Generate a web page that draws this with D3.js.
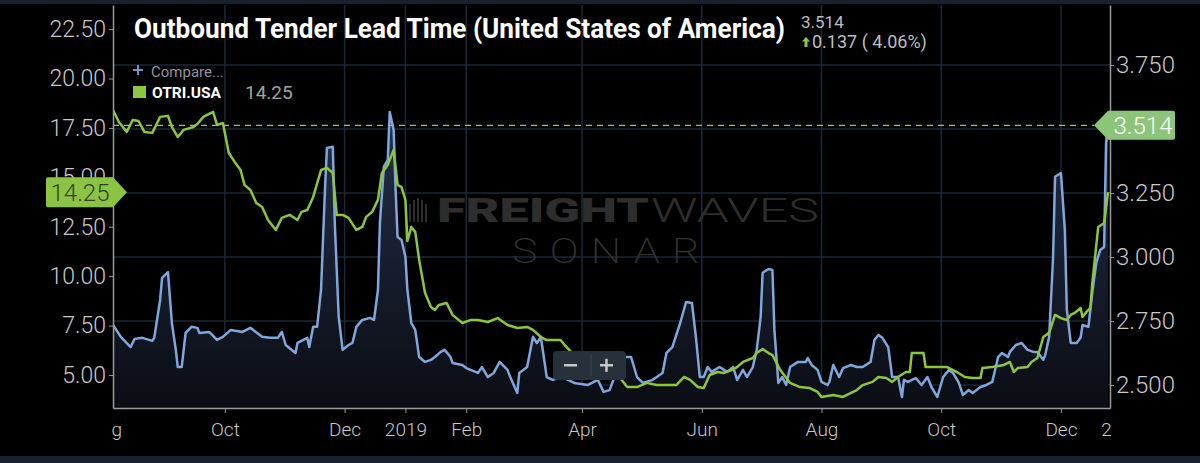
<!DOCTYPE html>
<html>
<head>
<meta charset="utf-8">
<script src="https://cdn.jsdelivr.net/npm/d3@7"></script>
<style>
  html, body { margin: 0; padding: 0; background: #000; }
  svg { display: block; font-family: Roboto, "Noto Sans", sans-serif; }
</style>
</head>
<body>
<svg id="chart" width="1200" height="463"></svg>
<script>
// day number counted from 2018-08-05, value
const startDay = '2018-08-05';
const endDay = '2019-12-26';

// Outbound Tender Lead Time (right axis)
const leadTime = [
  [0,2.734],[4,2.688],[9,2.648],[11,2.680],[15,2.684],[20,2.672],[21,2.684],[24,2.832],[25,2.918],[28,2.941],
  [30,2.742],[32,2.637],[33,2.570],[35,2.570],[37,2.703],[40,2.727],[43,2.723],[44,2.703],[49,2.707],[53,2.676],
  [56,2.688],[60,2.715],[66,2.707],[70,2.723],[76,2.688],[80,2.684],[84,2.684],[86,2.707],[88,2.656],[93,2.625],
  [94,2.664],[99,2.684],[100,2.648],[102,2.727],[104,2.727],[106,2.871],[108,3.262],[109,3.426],[112,3.430],[113,3.133],
  [115,2.766],[117,2.637],[120,2.656],[122,2.664],[124,2.727],[127,2.754],[131,2.762],[133,2.754],[135,2.871],[136,3.133],
  [138,3.352],[140,3.379],[141,3.566],[143,3.496],[144,3.262],[145,3.078],[147,3.066],[149,3.000],[150,2.871],[152,2.742],
  [154,2.715],[156,2.609],[159,2.590],[162,2.598],[164,2.609],[167,2.629],[169,2.637],[172,2.609],[173,2.586],[178,2.578],
  [180,2.566],[186,2.547],[188,2.570],[191,2.531],[194,2.547],[197,2.590],[201,2.559],[203,2.520],[206,2.469],[207,2.547],
  [211,2.570],[214,2.688],[216,2.664],[218,2.688],[221,2.531],[224,2.520],[229,2.531],[235,2.508],[242,2.500],[247,2.520],
  [250,2.473],[253,2.480],[255,2.520],[258,2.609],[264,2.609],[267,2.531],[270,2.508],[275,2.520],[280,2.547],[282,2.625],
  [285,2.648],[289,2.742],[292,2.824],[295,2.820],[297,2.688],[299,2.531],[301,2.531],[303,2.570],[305,2.551],[309,2.570],
  [313,2.551],[316,2.570],[318,2.520],[321,2.559],[323,2.531],[326,2.570],[328,2.637],[330,2.766],[331,2.938],[334,2.953],
  [336,2.949],[337,2.715],[339,2.508],[341,2.531],[343,2.500],[345,2.570],[349,2.590],[353,2.590],[354,2.605],[356,2.578],
  [359,2.559],[361,2.512],[364,2.500],[365,2.512],[367,2.578],[370,2.531],[372,2.566],[376,2.578],[379,2.570],[382,2.570],
  [386,2.590],[388,2.676],[390,2.695],[392,2.684],[395,2.648],[397,2.531],[400,2.531],[402,2.453],[403,2.520],[405,2.512],
  [409,2.527],[412,2.500],[415,2.531],[417,2.492],[420,2.453],[423,2.531],[426,2.559],[428,2.547],[431,2.508],[433,2.461],
  [436,2.480],[438,2.469],[442,2.492],[445,2.500],[448,2.512],[451,2.609],[453,2.625],[456,2.609],[457,2.629],[460,2.656],
  [463,2.664],[466,2.637],[469,2.629],[471,2.629],[474,2.598],[475,2.617],[477,2.688],[479,3.000],[480,3.313],[483,3.328],
  [485,3.105],[486,2.793],[488,2.664],[491,2.664],[493,2.684],[494,2.734],[497,2.727],[499,2.863],[501,2.977],[503,3.027],
  [505,3.039],[506,3.445],[507,3.514]
];

// OTRI.USA (left axis)
const otri = [
  [0,18.41],[3,17.80],[7,17.30],[10,17.90],[13,17.85],[16,17.30],[20,17.25],[22,17.65],[24,18.06],[28,18.11],
  [30,17.55],[33,17.04],[36,17.40],[41,17.55],[43,17.70],[46,18.06],[48,18.16],[51,18.31],[53,17.65],[56,17.75],
  [59,16.23],[62,15.78],[65,15.37],[67,14.62],[70,14.36],[73,13.70],[76,13.50],[79,12.84],[83,12.34],[86,12.95],
  [90,13.10],[94,12.84],[96,13.25],[99,13.35],[102,14.01],[106,15.37],[109,15.48],[112,15.22],[114,13.10],[117,13.10],
  [120,12.95],[124,12.34],[127,12.49],[129,13.00],[132,13.25],[135,13.86],[137,15.22],[140,15.63],[143,16.39],[145,14.62],
  [147,14.51],[149,13.86],[150,11.78],[152,12.49],[154,12.24],[156,10.82],[159,9.15],[162,8.44],[164,8.29],[166,8.54],
  [170,8.64],[173,8.04],[178,7.63],[182,7.78],[186,7.78],[191,7.68],[196,7.88],[201,7.53],[206,7.38],[211,7.43],
  [214,7.28],[218,6.92],[221,6.77],[228,6.77],[231,6.42],[234,6.11],[243,5.51],[252,5.15],[258,4.90],[262,4.39],
  [267,4.39],[272,4.60],[277,4.49],[282,4.49],[287,4.49],[291,4.90],[294,4.75],[298,4.39],[301,4.34],[304,5.00],
  [308,5.15],[311,5.10],[315,5.25],[318,5.40],[321,5.66],[326,5.86],[328,6.11],[331,6.32],[334,6.11],[336,6.01],
  [340,5.25],[345,4.60],[350,4.39],[355,4.34],[359,4.14],[361,3.89],[367,3.99],[372,3.89],[376,4.09],[379,4.24],
  [382,4.49],[387,4.65],[390,4.90],[394,4.85],[397,4.65],[400,4.90],[404,5.15],[406,5.15],[407,6.11],[413,6.11],
  [414,5.40],[418,5.40],[425,5.40],[430,5.15],[434,4.90],[438,4.85],[442,4.85],[443,5.35],[448,5.40],[454,5.51],
  [457,5.66],[459,5.15],[461,5.35],[466,5.40],[468,5.66],[471,5.86],[474,6.92],[477,7.13],[480,8.04],[483,7.88],
  [486,7.78],[488,8.04],[490,8.14],[493,8.39],[494,7.94],[496,8.19],[498,8.39],[499,9.66],[502,12.49],[505,12.69],
  [507,14.25]
];

const monthTicks = ['2018-08-01','2018-10-01','2018-12-01','2019-01-01','2019-02-01','2019-04-01',
  '2019-06-01','2019-08-01','2019-10-01','2019-12-01','2020-01-01'];
const leftTicks = [5, 7.5, 10, 12.5, 15, 17.5, 20, 22.5];
const rightTicks = [2.5, 2.75, 3, 3.25, 3.5, 3.75];

const lastLead = 3.514;
const lastOtri = 14.25;
const changeText = '0.137 ( 4.06%)';

const BLUE = '#7ea7dd';
const GREEN = '#8cc63f';

const parse = d3.timeParse('%Y-%m-%d');
const t0 = parse(startDay);
const toPoint = ([day, value]) => ({ date: d3.timeDay.offset(t0, day), value });
const leadData = leadTime.map(toPoint);
const otriData = otri.map(toPoint);

const plotL = 113, plotR = 1110, plotT = 5, plotB = 408;

const x = d3.scaleTime().domain([t0, parse(endDay)]).range([plotL, plotR]);
const yR = d3.scaleLinear().domain([2.41, 3.984]).range([plotB, plotT]);
const yL = d3.scaleLinear().domain([3.33, 23.72]).range([plotB, plotT]);

const svg = d3.select('#chart');
const defs = svg.append('defs');

defs.append('clipPath').attr('id', 'plot-clip')
  .append('rect').attr('x', plotL).attr('y', plotT).attr('width', plotR - plotL).attr('height', plotB - plotT);
defs.append('clipPath').attr('id', 'xaxis-clip')
  .append('rect').attr('x', plotL - 1).attr('y', plotB - 2).attr('width', plotR - plotL + 2).attr('height', 50);

const grad = defs.append('linearGradient').attr('id', 'area-grad')
  .attr('gradientUnits', 'userSpaceOnUse').attr('x1', 0).attr('x2', 0).attr('y1', 100).attr('y2', plotB);
grad.append('stop').attr('offset', 0).attr('stop-color', '#26304a');
grad.append('stop').attr('offset', 1).attr('stop-color', '#0b0d14');

svg.append('rect').attr('width', 1200).attr('height', 463).attr('fill', '#000');
svg.append('rect').attr('width', 1200).attr('height', 4).attr('fill', '#18222e');
svg.append('rect').attr('y', 456).attr('width', 1200).attr('height', 7).attr('fill', '#18222e');

// grid
const monthDates = monthTicks.map(parse);
svg.append('g').selectAll('line').data(rightTicks).join('line')
  .attr('x1', plotL).attr('x2', plotR)
  .attr('y1', d => yR(d)).attr('y2', d => yR(d))
  .attr('stroke', '#1c2835').attr('stroke-width', 1.5);
svg.append('g').selectAll('line').data(monthDates.filter(d => x(d) > plotL && x(d) < plotR)).join('line')
  .attr('x1', d => x(d)).attr('x2', d => x(d))
  .attr('y1', plotT).attr('y2', plotB)
  .attr('stroke', '#1c2835').attr('stroke-width', 1.5);

// watermark
const wm = svg.append('g').attr('fill', '#2e2e2e');
[14, 18, 22, 24, 22, 18].forEach((h, i) => {
  wm.append('rect').attr('x', 405 + i * 4).attr('y', 222 - h).attr('width', 2).attr('height', h);
});
wm.append('text').attr('x', 437).attr('y', 222).attr('font-size', 34).attr('font-weight', 900)
  .attr('textLength', 212).attr('lengthAdjust', 'spacingAndGlyphs').text('FREIGHT');
wm.append('text').attr('x', 651).attr('y', 222).attr('font-size', 34).attr('font-weight', 300)
  .attr('textLength', 168).attr('lengthAdjust', 'spacingAndGlyphs').text('WAVES');
wm.append('text').attr('x', 512).attr('y', 263).attr('font-size', 35).attr('font-weight', 200)
  .attr('fill', '#333').attr('letter-spacing', 10)
  .attr('textLength', 200).attr('lengthAdjust', 'spacingAndGlyphs').text('SONAR');

// series
const plot = svg.append('g').attr('clip-path', 'url(#plot-clip)');
plot.append('path').datum(leadData)
  .attr('fill', 'url(#area-grad)')
  .attr('d', d3.area().x(d => x(d.date)).y0(plotB).y1(d => yR(d.value)));
plot.append('path').datum(leadData)
  .attr('fill', 'none').attr('stroke', BLUE).attr('stroke-width', 2.5).attr('stroke-linejoin', 'round')
  .attr('d', d3.line().x(d => x(d.date)).y(d => yR(d.value)));
plot.append('path').datum(otriData)
  .attr('fill', 'none').attr('stroke', GREEN).attr('stroke-width', 2.5).attr('stroke-linejoin', 'round')
  .attr('d', d3.line().x(d => x(d.date)).y(d => yL(d.value)));

// last value dashed line
svg.append('line')
  .attr('x1', plotL).attr('x2', 1094).attr('y1', yR(lastLead)).attr('y2', yR(lastLead))
  .attr('stroke', '#9cc84a').attr('stroke-width', 1.4).attr('stroke-dasharray', '6,5');

// axes
function styleAxis(g, size) {
  g.selectAll('.domain').attr('stroke', '#9a9a9a').attr('stroke-width', 1.5);
  g.selectAll('.tick line').attr('stroke', '#9a9a9a');
  g.selectAll('.tick text').attr('fill', '#c9c9c9').attr('font-size', size).attr('font-weight', 300)
    .attr('font-family', 'Roboto, sans-serif');
}

svg.append('g').attr('transform', `translate(${plotL},0)`)
  .call(d3.axisLeft(yL).tickValues(leftTicks).tickFormat(d3.format('.2f')).tickSize(4).tickSizeOuter(0).tickPadding(3))
  .call(g => styleAxis(g, 23));

// the 3.500 label sits under the last-value tag, so only its tick is drawn
svg.append('g').attr('transform', `translate(${plotR},0)`)
  .call(d3.axisRight(yR).tickValues(rightTicks)
    .tickFormat(d => Math.abs(d - lastLead) < 0.05 ? '' : d3.format('.3f')(d))
    .tickSize(4).tickSizeOuter(0).tickPadding(2))
  .call(g => styleAxis(g, 24));

const fmtMonth = d3.timeFormat('%b'), fmtYear = d3.timeFormat('%Y');
svg.append('g').attr('clip-path', 'url(#xaxis-clip)')
  .append('g').attr('transform', `translate(0,${plotB})`)
  .call(d3.axisBottom(x).tickValues(monthDates)
    .tickFormat(d => d.getMonth() === 0 ? fmtYear(d) : fmtMonth(d))
    .tickSize(5).tickSizeOuter(0).tickPadding(10))
  .call(g => styleAxis(g, 19));

// zoom buttons
const zb = svg.append('g');
zb.append('rect').attr('x', 553).attr('y', 351).attr('width', 73).attr('height', 29).attr('rx', 4)
  .attr('fill', '#27313c');
zb.append('line').attr('x1', 591).attr('x2', 591).attr('y1', 355).attr('y2', 376)
  .attr('stroke', '#3b4652');
zb.append('rect').attr('x', 564).attr('y', 364).attr('width', 13).attr('height', 2.5).attr('fill', '#c8c8c8');
zb.append('rect').attr('x', 600).attr('y', 364).attr('width', 13).attr('height', 2.5).attr('fill', '#c8c8c8');
zb.append('rect').attr('x', 605.2).attr('y', 358.8).attr('width', 2.5).attr('height', 13).attr('fill', '#c8c8c8');

// title block
svg.append('text').attr('x', 134).attr('y', 38)
  .attr('fill', '#fff').attr('font-size', 28).attr('font-weight', 700)
  .attr('textLength', 651).attr('lengthAdjust', 'spacingAndGlyphs')
  .text('Outbound Tender Lead Time (United States of America)');
svg.append('text').attr('x', 801).attr('y', 28)
  .attr('fill', '#bdbdbd').attr('font-size', 17).text(d3.format('.3f')(lastLead));
svg.append('path').attr('d', 'M806,37 L810,41.5 L807.5,41.5 L807.5,47 L804.5,47 L804.5,41.5 L802,41.5 Z')
  .attr('fill', GREEN);
svg.append('text').attr('x', 812).attr('y', 48)
  .attr('fill', '#bdbdbd').attr('font-size', 18).text(changeText);

// legend
svg.append('path').attr('d', 'M133,70 H143 M138,65 V75').attr('stroke', '#6d93c6').attr('stroke-width', 2);
svg.append('text').attr('x', 151).attr('y', 77).attr('fill', '#8f959c').attr('font-size', 15).text('Compare...');
svg.append('rect').attr('x', 133).attr('y', 86).attr('width', 13).attr('height', 12).attr('fill', GREEN);
svg.append('text').attr('x', 152).attr('y', 98).attr('fill', '#fff').attr('font-size', 15.5)
  .attr('font-weight', 700).text('OTRI.USA');
svg.append('text').attr('x', 245).attr('y', 99).attr('fill', '#a3a3a3').attr('font-size', 19)
  .text(d3.format('.2f')(lastOtri));

// value tags
const gy = yL(lastOtri);
svg.append('path')
  .attr('d', `M48,${gy - 15} H113 L127,${gy} L113,${gy + 15} H48 Q46,${gy + 15} 46,${gy + 13} V${gy - 13} Q46,${gy - 15} 48,${gy - 15} Z`)
  .attr('fill', '#8bc443');
svg.append('text').attr('x', 80).attr('y', gy).attr('dy', '0.35em').attr('text-anchor', 'middle')
  .attr('fill', '#35402a').attr('font-size', 24).attr('font-weight', 300).text(d3.format('.2f')(lastOtri));

const by = yR(lastLead);
svg.append('path')
  .attr('d', `M1094,${by} L1108,${by - 14.5} H1173 Q1175,${by - 14.5} 1175,${by - 12.5} V${by + 12.5} Q1175,${by + 14.5} 1173,${by + 14.5} H1108 Z`)
  .attr('fill', '#8cc57a');
svg.append('text').attr('x', 1143).attr('y', by).attr('dy', '0.35em').attr('text-anchor', 'middle')
  .attr('fill', '#fff').attr('font-size', 24).attr('font-weight', 300).text(d3.format('.3f')(lastLead));
</script>
</body>
</html>
